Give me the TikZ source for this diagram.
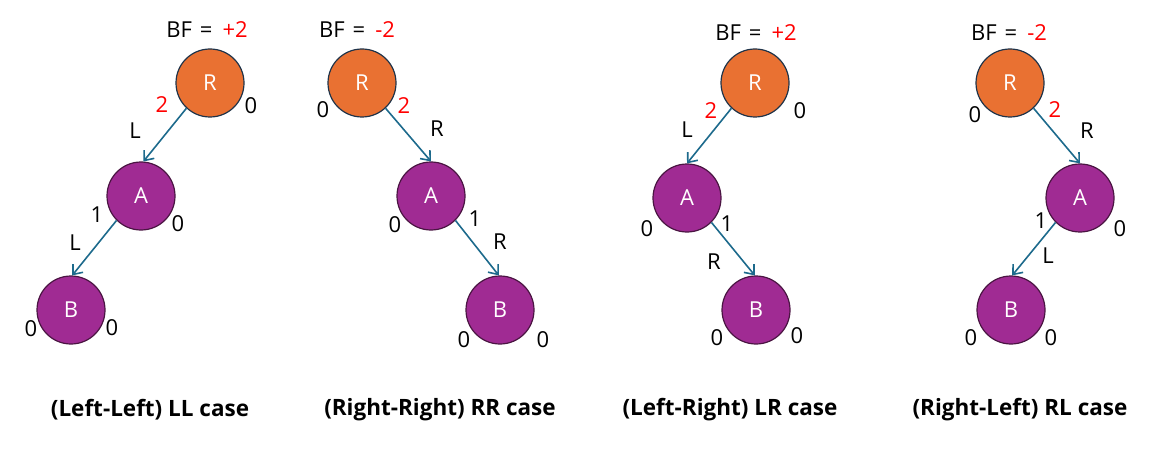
\documentclass[tikz,border=0pt]{standalone}
\usepackage{fontspec}
\setmainfont{Open Sans}
\usetikzlibrary{arrows.meta}
\definecolor{rfill}{HTML}{E97132}
\definecolor{rline}{HTML}{1F3349}
\definecolor{pfill}{HTML}{A02B93}
\definecolor{pline}{HTML}{4A1542}
\definecolor{edgec}{HTML}{1D6A8C}
\definecolor{bfred}{HTML}{FF0000}
\newcommand{\bftext}[1]{BF\hspace{8pt}=\hspace{10pt}\textcolor{bfred}{#1}}
\tikzset{
  every node/.style={font=\fontsize{22}{26}\selectfont, inner sep=0pt},
  rnode/.style={circle, draw=rline, line width=1.2pt, fill=rfill, minimum size=68pt, text=white},
  pnode/.style={circle, draw=pline, line width=1.2pt, fill=pfill, minimum size=68pt, text=white},
  arr/.style={draw=edgec, line width=1.6pt, -{Straight Barb[length=8pt,width=13pt,line width=1.6pt]}},
  lbl/.style={text=black},
  rlbl/.style={text=bfred},
  captxt/.style={font=\fontsize{22.5}{27}\selectfont\bfseries}
}
\begin{document}
\begin{tikzpicture}[x=1pt,y=-1pt]
\useasboundingbox (0,0) rectangle (1155,449);
% Tree 1 LL
\node[rnode] (r1) at (210,83) {R};
\node[pnode] (a1) at (141,196) {A};
\node[pnode] (b1) at (71,310) {B};
\draw[arr] (r1.227) -- (a1.86);
\draw[arr] (a1.225) -- (b1.88);
\node (bf1) at (207,30) {\bftext{+2}};
\node[rlbl] (t1a) at (162,105) {2};
\node[lbl] (t1b) at (251,106) {0};
\node[lbl] (t1c) at (135,131) {L};
\node[lbl] (t1d) at (97,215) {1};
\node[lbl] (t1e) at (178,224) {0};
\node[lbl] (t1f) at (75,243) {L};
\node[lbl] (t1g) at (31,329) {0};
\node[lbl] (t1h) at (112,328) {0};
\node[captxt] (c1) at (150,410) {(Left-Left) LL case};
% Tree 2 RR
\node[rnode] (r2) at (362,83) {R};
\node[pnode] (a2) at (431,196) {A};
\node[pnode] (b2) at (500,310) {B};
\draw[arr] (r2.313) -- (a2.north);
\draw[arr] (a2.315) -- (b2.92);
\node (bf2) at (357,30) {\bftext{-2}};
\node[lbl] (t2a) at (323,110) {0};
\node[rlbl] (t2b) at (404,106) {2};
\node[lbl] (t2c) at (437,129) {R};
\node[lbl] (t2d) at (395,225) {0};
\node[lbl] (t2e) at (475,219) {1};
\node[lbl] (t2f) at (500,242) {R};
\node[lbl] (t2g) at (464,340) {0};
\node[lbl] (t2h) at (543,340) {0};
\node[captxt] (c2) at (440,410) {(Right-Right) RR case};
% Tree 3 LR
\node[rnode] (r3) at (755,83) {R};
\node[pnode] (a3) at (687,198) {A};
\node[pnode] (b3) at (756,310) {B};
\draw[arr] (r3.227) -- (a3.north);
\draw[arr] (a3.315) -- (b3.92);
\node (bf3) at (756,33) {\bftext{+2}};
\node[rlbl] (t3a) at (711,111) {2};
\node[lbl] (t3b) at (800,111) {0};
\node[lbl] (t3c) at (687,130) {L};
\node[lbl] (t3d) at (647,229) {0};
\node[lbl] (t3e) at (727,224) {1};
\node[lbl] (t3f) at (714,262) {R};
\node[lbl] (t3g) at (717,338) {0};
\node[lbl] (t3h) at (797,336) {0};
\node[captxt] (c3) at (730,410) {(Left-Right) LR case};
% Tree 4 RL
\node[rnode] (r4) at (1010,83) {R};
\node[pnode] (a4) at (1080,198) {A};
\node[pnode] (b4) at (1011,310) {B};
\draw[arr] (r4.313) -- (a4.north);
\draw[arr] (a4.225) -- (b4.88);
\node (bf4) at (1009,33) {\bftext{-2}};
\node[lbl] (t4a) at (975,115) {0};
\node[rlbl] (t4b) at (1055,110) {2};
\node[lbl] (t4c) at (1087,131) {R};
\node[lbl] (t4d) at (1041,221) {1};
\node[lbl] (t4e) at (1120,229) {0};
\node[lbl] (t4f) at (1048,256) {L};
\node[lbl] (t4g) at (971,338) {0};
\node[lbl] (t4h) at (1051,338) {0};
\node[captxt] (c4) at (1020,410) {(Right-Left) RL case};
\end{tikzpicture}
\end{document}
